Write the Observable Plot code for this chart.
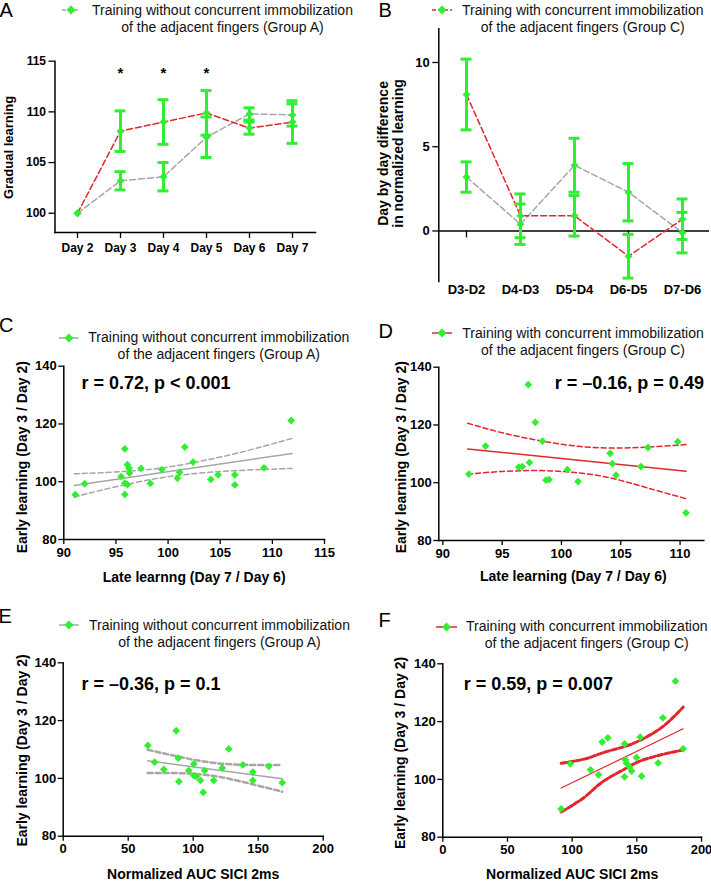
<!DOCTYPE html>
<html><head><meta charset="utf-8">
<script src="https://cdn.jsdelivr.net/npm/d3@7"></script>
<script src="https://cdn.jsdelivr.net/npm/@observablehq/plot@0.6"></script>
<style>
body{margin:0;background:#fff;font-family:"Liberation Sans",Arial,sans-serif;}
#root{position:relative;width:711px;height:881px;overflow:hidden;background:#fff;}
.letter{position:absolute;font-size:20px;line-height:20px;color:#000;}
.legtext{position:absolute;font-size:14px;line-height:17px;white-space:nowrap;text-align:center;color:#111;}
svg{overflow:visible;}
</style></head><body><div id="root"></div>
<script>
// ---------- data ----------
const days = ["Day 2","Day 3","Day 4","Day 5","Day 6","Day 7"];
const aGroupA = [100, 103.2, 103.6, 107.5, 109.8, 109.7];
const aGroupAErr = [0, 0.9, 1.4, 2.0, 0.6, 1.1];
const aGroupC = [100, 108.1, 109.0, 109.9, 108.4, 109.0];
const aGroupCErr = [0, 2.0, 2.2, 2.2, 0.6, 2.1];
const aStarDays = ["Day 3","Day 4","Day 5"];
const aStarY = 113.8;
const aYTicks = [100, 105, 110, 115];

const diffs = ["D3-D2","D4-D3","D5-D4","D6-D5","D7-D6"];
const bGroupA = [3.2, 0.4, 3.9, 2.3, -0.1];
const bGroupAErr = [0.9, 1.2, 1.6, 1.7, 1.2];
const bGroupC = [8.1, 0.9, 0.9, -1.5, 0.7];
const bGroupCErr = [2.1, 1.3, 1.2, 1.3, 1.2];
const bYTicks = [0, 5, 10];

const cLate  = [91.1, 92.0, 95.5, 95.85, 96.1, 96.25, 96.3, 95.85, 96.1, 95.85, 97.4, 98.3, 99.4, 100.9, 101.1, 101.6, 102.4, 104.1, 104.8, 106.4, 106.4, 109.2, 111.8];
const cEarly = [95.5, 99.3, 101.8, 111.4, 105.9, 104.7, 103.0, 99.5, 99.0, 95.6, 104.6, 99.4, 104.2, 101.2, 103.3, 112.0, 106.8, 100.8, 102.4, 102.4, 98.9, 104.8, 121.2];
const cFitX = [91.0, 111.9], cFitY = [98.7, 109.8];
const cBandX = [91.0, 93.5, 96.7, 99.9, 103.1, 106.3, 109.5, 111.9];
const cUpper = [102.75, 103.1, 103.8, 105.0, 107.1, 109.6, 112.6, 115.0];
const cLower = [94.7, 97.0, 99.6, 101.7, 103.0, 103.8, 104.3, 104.6];

const dLate  = [92.2, 93.6, 97.2, 97.8, 96.4, 96.7, 97.3, 98.4, 98.7, 98.95, 100.5, 101.4, 104.1, 104.3, 104.6, 106.7, 107.3, 109.8, 110.5];
const dEarly = [103.0, 112.7, 134.0, 120.9, 105.4, 105.6, 107.0, 114.4, 100.9, 101.1, 104.5, 100.4, 110.2, 106.6, 102.6, 105.6, 112.2, 114.2, 89.6];
const dFitX = [92.1, 110.5], dFitY = [111.7, 104.0];
const dBandX = [92.1, 95, 98, 101, 104, 107, 110.5];
const dUpper = [120.6, 117.3, 114.7, 112.8, 112.0, 112.3, 113.2];
const dLower = [103.0, 103.9, 104.2, 103.6, 101.8, 98.5, 94.5];

const eSici  = [65.1, 70.3, 77.4, 86.9, 88.5, 89.0, 96.6, 100.5, 100.5, 102.3, 105.6, 107.7, 108.7, 115.8, 122.3, 127.4, 138.2, 145.9, 145.9, 158.2, 168.5];
const eEarly = [111.4, 105.6, 103.1, 116.5, 107.0, 98.9, 102.7, 105.0, 101.0, 100.7, 99.3, 95.2, 102.7, 99.3, 103.6, 110.2, 104.7, 102.2, 99.3, 104.2, 98.5];
const eFitX = [65, 168.5], eFitY = [106.1, 99.9];
const eBandX = [65, 90, 115, 140, 168.5];
const eUpper = [109.9, 107.4, 105.4, 104.7, 104.6];
const eLower = [101.9, 101.8, 100.9, 98.6, 95.4];

const fSici  = [91.5, 98.5, 114.2, 120.4, 123.2, 127.6, 140.5, 140.5, 141.2, 142.0, 144.3, 146.0, 149.7, 152.6, 153.7, 166.5, 170.1, 179.9, 185.8];
const fEarly = [89.8, 105.4, 103.3, 101.6, 112.9, 114.4, 112.3, 100.9, 106.8, 105.6, 104.3, 102.9, 107.6, 114.6, 101.1, 105.7, 121.3, 134.0, 110.6];
const fFitX = [91.5, 185.8], fFitY = [97.0, 117.5];
const fBandX = [91.5, 110, 123, 140.7, 152.8, 169.6, 185.8];
const fUpper = [105.6, 107.1, 109.1, 111.4, 113.6, 118.1, 125.0];
const fLower = [88.7, 94.0, 99.0, 103.6, 106.4, 108.6, 110.2];

const scatterYTicks = [80, 100, 120, 140];
const lateTicksC = [90, 95, 100, 105, 110, 115];
const lateTicksD = [90, 95, 100, 105, 110];
const siciTicks = [0, 50, 100, 150, 200];

const legendA = ["Training without concurrent immobilization", "of the adjacent fingers (Group A)"];
const legendC = ["Training with concurrent immobilization", "of the adjacent fingers (Group C)"];

// ---------- style ----------
const green = "#30ee30", red = "#e3262b", gray = "#a6a6a6";
const font = "'Liberation Sans', Arial, sans-serif";
const root = document.getElementById("root");

function place(el, left, top) {
  el.style.position = "absolute"; el.style.left = left + "px"; el.style.top = top + "px";
  root.appendChild(el);
}
function letter(t, left, top) {
  const d = document.createElement("div"); d.className = "letter"; d.textContent = t;
  d.style.left = left + "px"; d.style.top = top + "px"; root.appendChild(d);
}
function legend(x0, x1, y, textLeft, lines, stroke, dash) {
  const ns = "http://www.w3.org/2000/svg";
  const s = document.createElementNS(ns, "svg");
  const w = x1 - x0;
  s.setAttribute("width", w); s.setAttribute("height", 12);
  s.style.position = "absolute"; s.style.left = x0 + "px"; s.style.top = (y - 6) + "px";
  const l = document.createElementNS(ns, "line");
  l.setAttribute("x1", 0); l.setAttribute("x2", w); l.setAttribute("y1", 6); l.setAttribute("y2", 6);
  l.setAttribute("stroke", stroke); l.setAttribute("stroke-width", 1.5);
  if (dash) l.setAttribute("stroke-dasharray", dash);
  s.appendChild(l);
  const p = document.createElementNS(ns, "polygon");
  const c = w / 2;
  p.setAttribute("points", `${c},1.5 ${c+4.5},6 ${c},10.5 ${c-4.5},6`);
  p.setAttribute("fill", green);
  s.appendChild(p);
  root.appendChild(s);
  const t = document.createElement("div"); t.className = "legtext";
  t.innerHTML = lines.join("<br>");
  t.style.left = textLeft + "px"; t.style.top = (y - 8.5) + "px";
  root.appendChild(t);
}
const baseStyle = {fontFamily: font, fontWeight: "bold", fontSize: "13px", color: "#000", background: "transparent", overflow: "visible"};
const mid = {textAnchor: "middle", lineAnchor: "middle"};

function errMarks(rows, xk, vk, ek) {
  const r = rows.filter(d => d[ek] > 0);
  return [
    Plot.ruleX(r, {x: xk, y1: d => d[vk] - d[ek], y2: d => d[vk] + d[ek], stroke: green, strokeWidth: 3}),
    Plot.ruleY(r, {x1: xk, x2: xk, y: d => d[vk] - d[ek], stroke: green, strokeWidth: 3, insetLeft: -5.5, insetRight: -5.5}),
    Plot.ruleY(r, {x1: xk, x2: xk, y: d => d[vk] + d[ek], stroke: green, strokeWidth: 3, insetLeft: -5.5, insetRight: -5.5})
  ];
}
const dot = (xs, ys) => Plot.dot(xs, {x: xs, y: ys, symbol: "diamond2", r: 3.5, fill: green, stroke: null});
const lineXY = (xs, ys, o) => Plot.line(xs, Object.assign({x: xs, y: ys}, o));

// ---------- Panel A ----------
const aRows = days.map((d, i) => ({day: d, a: aGroupA[i], aErr: aGroupAErr[i], c: aGroupC[i], cErr: aGroupCErr[i]}));
const pA = Plot.plot({
  width: 355, height: 300, marginLeft: 54.5, marginTop: 60.7, marginRight: 40, marginBottom: 68,
  style: baseStyle,
  x: {type: "point", domain: days, padding: 0.5, label: null},
  y: {domain: [98.1, 115], label: null},
  marks: [
    Plot.frame({anchor: "left", strokeWidth: 1.5}),
    Plot.frame({anchor: "bottom", strokeWidth: 1.5}),
    Plot.axisX({tickSize: 6, tickPadding: 5, fontSize: 12, strokeWidth: 1.3, label: null}),
    Plot.axisY({ticks: aYTicks, tickSize: 6, tickPadding: 3, fontSize: 12, strokeWidth: 1.3, label: null}),
    Plot.line(aRows, {x: "day", y: "a", stroke: gray, strokeWidth: 1.5, strokeDasharray: "6,3"}),
    Plot.line(aRows, {x: "day", y: "c", stroke: red, strokeWidth: 1.5, strokeDasharray: "6,3"}),
    ...errMarks(aRows, "day", "a", "aErr"),
    ...errMarks(aRows, "day", "c", "cErr"),
    Plot.dot(aRows, {x: "day", y: "a", symbol: "diamond2", r: 3.6, fill: green, stroke: null}),
    Plot.dot(aRows, {x: "day", y: "c", symbol: "diamond2", r: 3.6, fill: green, stroke: null}),
    Plot.text(aStarDays, {x: d => d, y: aStarY, text: () => "*", fontSize: 15, ...mid}),
    Plot.text(["Gradual learning"], {frameAnchor: "left", rotate: -90, dx: -46.5, dy: 0.6, fontSize: 13, ...mid})
  ]
});
place(pA, 0, 0);

// ---------- Panel B ----------
const bRows = diffs.map((d, i) => ({k: d, a: bGroupA[i], aErr: bGroupAErr[i], c: bGroupC[i], cErr: bGroupCErr[i]}));
const pB = Plot.plot({
  width: 356, height: 300, marginLeft: 83.3, marginTop: 28.3, marginRight: 2, marginBottom: 19,
  style: baseStyle,
  x: {type: "point", domain: diffs, padding: 0.5, label: null},
  y: {domain: [-3, 12], label: null},
  marks: [
    Plot.frame({anchor: "left", strokeWidth: 1.5}),
    Plot.ruleY([0], {stroke: "#000", strokeWidth: 1.5}),
    Plot.ruleX(diffs, {x: d => d, y1: 0, y2: 0, insetBottom: -7, stroke: "#000", strokeWidth: 1.3}),
    Plot.axisX({tickSize: 0, tickPadding: 3, fontSize: 13, label: null}),
    Plot.axisY({ticks: bYTicks, tickSize: 6, tickPadding: 3, fontSize: 13, strokeWidth: 1.3, label: null}),
    Plot.line(bRows, {x: "k", y: "a", stroke: gray, strokeWidth: 1.5, strokeDasharray: "6,3"}),
    Plot.line(bRows, {x: "k", y: "c", stroke: red, strokeWidth: 1.5, strokeDasharray: "6,3"}),
    ...errMarks(bRows, "k", "a", "aErr"),
    ...errMarks(bRows, "k", "c", "cErr"),
    Plot.dot(bRows, {x: "k", y: "a", symbol: "diamond2", r: 3.6, fill: green, stroke: null}),
    Plot.dot(bRows, {x: "k", y: "c", symbol: "diamond2", r: 3.6, fill: green, stroke: null}),
    Plot.text(["Day by day difference\nin normalized learning"], {frameAnchor: "left", rotate: -90, dx: -47.8, dy: -1.7, fontSize: 14, lineHeight: 1.08, ...mid})
  ]
});
place(pB, 355, 0);

// ---------- scatter panel factory ----------
function scatter(o) {
  return Plot.plot({
    width: o.w, height: o.h, marginLeft: o.mL, marginTop: o.mT, marginRight: o.mR, marginBottom: o.mB,
    style: baseStyle,
    x: {domain: o.xDomain, label: null},
    y: {domain: [80, 140], label: null},
    marks: [
      Plot.frame({anchor: "left", strokeWidth: 1.5}),
      Plot.frame({anchor: "bottom", strokeWidth: 1.5}),
      Plot.axisX({ticks: o.xTicks, tickSize: 5, tickPadding: 3, fontSize: 13, strokeWidth: 1.3, label: null}),
      Plot.axisY({ticks: scatterYTicks, tickSize: 5, tickPadding: 2, fontSize: 13, strokeWidth: 1.3, label: null}),
      lineXY(o.bandX, o.upper, {stroke: o.color, strokeWidth: o.bandW, strokeDasharray: o.dash, curve: "natural"}),
      lineXY(o.bandX, o.lower, {stroke: o.color, strokeWidth: o.bandW, strokeDasharray: o.dash, curve: "natural"}),
      lineXY(o.fitX, o.fitY, {stroke: o.color, strokeWidth: o.fitW}),
      dot(o.xs, o.ys),
      Plot.text([o.rText], {frameAnchor: "top-left", textAnchor: "start", lineAnchor: "middle", dx: o.rdx, dy: o.rdy, fontSize: 18}),
      Plot.text([o.xLabel], {frameAnchor: "bottom", dx: o.xldx || 0, dy: o.xldy, fontSize: 14, ...mid}),
      Plot.text(["Early learning (Day 3 / Day 2)"], {frameAnchor: "left", rotate: -90, dx: o.yldx, dy: o.yldy, fontSize: 14, ...mid})
    ]
  });
}

const pC = scatter({w: 355, h: 290, mL: 63.3, mT: 65.7, mR: 31, mB: 51, xDomain: [90, 115], xTicks: lateTicksC,
  bandX: cBandX, upper: cUpper, lower: cLower, fitX: cFitX, fitY: cFitY, color: gray, bandW: 1.5, fitW: 1.5, dash: "5,3",
  xs: cLate, ys: cEarly, rText: "r = 0.72, p < 0.001", rdx: 17.7, rdy: 17,
  xLabel: "Late learnng (Day 7 / Day 6)", xldy: 37.7, yldx: -41.3, yldy: 4.4});
place(pC, 0, 300);

const pD = scatter({w: 356, h: 290, mL: 83.3, mT: 66.7, mR: 7.7, mB: 50, xDomain: [89.66, 112], xTicks: lateTicksD,
  bandX: dBandX, upper: dUpper, lower: dLower, fitX: dFitX, fitY: dFitY, color: red, bandW: 1.5, fitW: 1.5, dash: "5,3",
  xs: dLate, ys: dEarly, rText: "r = \u20130.16, p = 0.49", rdx: 116, rdy: 16,
  xLabel: "Late learning (Day 7 / Day 6)", xldx: 2, xldy: 36, yldx: -37.3, yldy: 3.4});
place(pD, 355, 300);

const pE = scatter({w: 355, h: 291, mL: 62.7, mT: 72.3, mR: 32.3, mB: 45.3, xDomain: [0, 200], xTicks: siciTicks,
  bandX: eBandX, upper: eUpper, lower: eLower, fitX: eFitX, fitY: eFitY, color: gray, bandW: 2.5, fitW: 1.5, dash: "5,3",
  xs: eSici, ys: eEarly, rText: "r = \u20130.36, p = 0.1", rdx: 18.3, rdy: 21.4,
  xLabel: "Normalized AUC SICI 2ms", xldy: 38.3, yldx: -41, yldy: 1});
place(pE, 0, 590);

const pF = scatter({w: 356, h: 291, mL: 87.3, mT: 73.3, mR: 10, mB: 44.3, xDomain: [0, 200], xTicks: siciTicks,
  bandX: fBandX, upper: fUpper, lower: fLower, fitX: fFitX, fitY: fFitY, color: red, bandW: 3, fitW: 1.2, dash: "5,2.5",
  xs: fSici, ys: fEarly, rText: "r = 0.59, p = 0.007", rdx: 21, rdy: 20.4,
  xLabel: "Normalized AUC SICI 2ms", xldy: 37.6, yldx: -42.3, yldy: 2.5});
place(pF, 355, 590);

// ---------- letters & legends ----------
letter("A", -0.5, 0); letter("B", 378.5, 0);
letter("C", -1, 314.8); letter("D", 378.5, 321.4);
letter("E", -1.5, 606.4); letter("F", 378.5, 609.8);

legend(62, 80, 10, 92, legendA, gray, "4,2");
legend(432, 452, 10, 462, legendC, red, "4,2");
legend(59.3, 79, 337.7, 88.3, legendA, gray, null);
legend(432.3, 452.3, 333.3, 462.3, legendC, red, null);
legend(59.3, 79, 625, 89, legendA, gray, null);
legend(435.7, 456.7, 626.7, 466, legendC, red, null);
</script></body></html>
